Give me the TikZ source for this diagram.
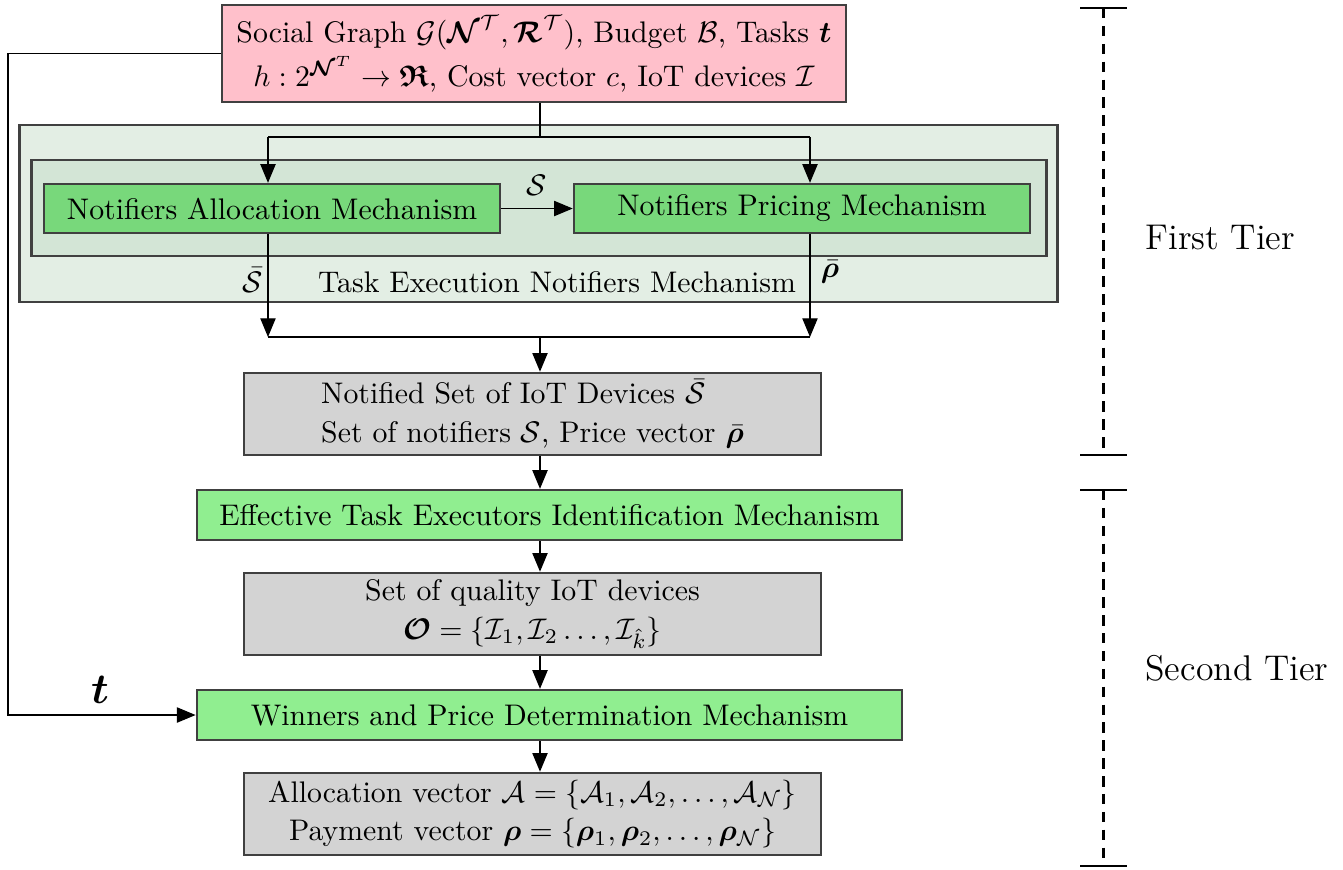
\documentclass[tikz,border=0pt]{standalone}
\usepackage{amsmath,amssymb,bm}
\usetikzlibrary{arrows.meta}

\definecolor{srcpink}{HTML}{FFC0CB}
\definecolor{outergreen}{HTML}{E3EEE4}
\definecolor{innergreen}{HTML}{D3E5D6}
\definecolor{mechgreen}{HTML}{78D87B}
\definecolor{stepgreen}{HTML}{90EE90}
\definecolor{setgray}{HTML}{D3D3D3}

\tikzset{
  box/.style={draw=black!75, line width=0.8pt, align=center, inner sep=2pt},
  arr/.style={-{Triangle[length=2.2mm,width=1.8mm]}},
  tier/.style={line width=0.8pt},
  tierdash/.style={line width=1pt, dash pattern=on 3.5pt off 2.5pt}
}

\begin{document}
\begin{tikzpicture}[x=0.0118cm,y=-0.0118cm]
    \useasboundingbox (0,0) rectangle (1343,869);

    % Draw the input box
    \node[box, fill=srcpink, minimum width=7.36cm, minimum height=1.145cm] (src) at (534,53.5)
      {Social Graph $\mathcal{G}(\boldsymbol{\mathcal{N}}^{\mathcal{T}}, \boldsymbol{\mathcal{R}}^{\mathcal{T}})$, Budget $\mathcal{B}$, Tasks $\boldsymbol{t}$\\[1pt]
       $h : 2^{\boldsymbol{\mathcal{N}}^{T}} \rightarrow \boldsymbol{\mathfrak{R}}$, Cost vector $c$, IoT devices $\mathcal{I}$};

    % Draw the first tier mechanism
    \node[box, fill=outergreen, minimum width=12.24cm, minimum height=2.09cm] (tenm) at (538.5,213.5) {};
    \node[box, fill=innergreen, minimum width=11.97cm, minimum height=1.13cm] (inner) at (539,208) {};
    \node[box, fill=mechgreen, minimum width=5.38cm, minimum height=0.578cm] (alloc) at (272,208.5) {Notifiers Allocation Mechanism};
    \node[box, fill=mechgreen, minimum width=5.38cm, minimum height=0.578cm] (pric) at (802,208.5) {Notifiers Pricing Mechanism};
    \node (tenmlabel) at (557,282) {Task Execution Notifiers Mechanism};

    % Draw the stacked boxes
    \node[box, align=left, fill=setgray, minimum width=6.81cm, minimum height=0.97cm] (set1) at (532.5,414)
      {Notified Set of IoT Devices $\bar{\mathcal{S}}$\\[1pt] Set of notifiers $\mathcal{S}$, Price vector $\bar{\boldsymbol{\rho}}$};
    \node[box, fill=stepgreen, minimum width=8.32cm, minimum height=0.59cm] (eff) at (549.5,515) {Effective Task Executors Identification Mechanism};
    \node[box, fill=setgray, minimum width=6.81cm, minimum height=0.97cm] (set2) at (532.5,614)
      {Set of quality IoT devices\\[1pt] $\boldsymbol{\mathcal{O}} = \{\mathcal{I}_1, \mathcal{I}_2 \ldots, \mathcal{I}_{\hat{k}}\}$};
    \node[box, fill=stepgreen, minimum width=8.32cm, minimum height=0.59cm] (win) at (549.5,715) {Winners and Price Determination Mechanism};
    \node[box, fill=setgray, minimum width=6.81cm, minimum height=0.97cm] (set3) at (532.5,814)
      {Allocation vector $\mathcal{A} = \{\mathcal{A}_1, \mathcal{A}_2, \ldots, \mathcal{A}_{\mathcal{N}}\}$\\[1pt] Payment vector $\boldsymbol{\rho} = \{\boldsymbol{\rho}_1, \boldsymbol{\rho}_2, \ldots, \boldsymbol{\rho}_{\mathcal{N}}\}$};

    % Split and merge points
    \coordinate (mid) at (540,137);
    \coordinate (sl) at (268,137);
    \coordinate (sr) at (810,137);
    \coordinate (ml) at (268,337);
    \coordinate (mr) at (810,337);
    \coordinate (mm) at (540,337);
    \coordinate (fb) at (8,400);

    % Draw the connectors
    \draw (src.south -| mid) -- (mid);
    \draw (sl) -- (sr);
    \draw[arr] (sl) -- (sl |- alloc.north);
    \draw[arr] (sr) -- (sr |- pric.north);
    \draw[arr] (alloc) -- (pric) node[midway, above=1pt] {$\mathcal{S}$};
    \draw[arr] (sl |- alloc.south) -- (ml);
    \draw[arr] (sr |- pric.south) -- (mr);
    \draw (ml) -- (mr);
    \node (sbar) at (253,280) {$\bar{\mathcal{S}}$};
    \node (rhobar) at (830,272) {$\bar{\boldsymbol{\rho}}$};
    \draw[arr] (mm) -- (set1.north -| mm);
    \draw[arr] (set1.south -| mm) -- (eff.north -| mm);
    \draw[arr] (eff.south -| mm) -- (set2.north -| mm);
    \draw[arr] (set2.south -| mm) -- (win.north -| mm);
    \draw[arr] (win.south -| mm) -- (set3.north -| mm);

    % Draw the feedback of the tasks
    \draw[arr] (src.west) -| (fb) |- (win.west);
    \node (tlabel) at (100,690) {\Large $\boldsymbol{t}$};

    % Draw the tiers
    \draw[tier] (1080,8) -- (1127,8);
    \draw[tier] (1080,455) -- (1127,455);
    \draw[tierdash] (1103,8) -- (1103,455);
    \node[anchor=west] (first) at (1135,237) {\large First Tier};

    \draw[tier] (1080,490) -- (1127,490);
    \draw[tier] (1080,866) -- (1127,866);
    \draw[tierdash] (1103,490) -- (1103,866);
    \node[anchor=west] (second) at (1135,668) {\large Second Tier};

\end{tikzpicture}
\end{document}
